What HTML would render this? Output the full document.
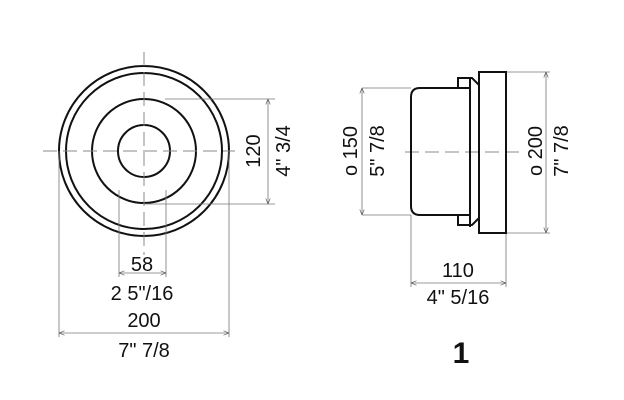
<!DOCTYPE html>
<html><head><style>body{margin:0;background:#fff}svg{display:block}text{font-family:"Liberation Sans",sans-serif;fill:#111}</style></head><body>
<svg width="624" height="400" viewBox="0 0 624 400">
<defs><marker id="a" viewBox="0 0 10 10" refX="10" refY="5" markerWidth="7" markerHeight="7" orient="auto-start-reverse"><path d="M0,1 L10,5 L0,9" fill="none" stroke="#555" stroke-width="1.2"/></marker></defs>
<g fill="none" stroke="#111" stroke-width="2">
<circle cx="144" cy="151" r="85"/><circle cx="144" cy="151" r="78"/><circle cx="144" cy="151" r="52"/><circle cx="144" cy="151" r="26"/>
</g>
<g stroke="#888" stroke-width="1" stroke-dasharray="14,6" fill="none">
<line x1="43" y1="151" x2="235" y2="151"/><line x1="144" y1="52" x2="144" y2="255"/>
<line x1="405" y1="152" x2="522" y2="152"/>
</g>
<g stroke="#777" stroke-width="0.8" fill="none">
<line x1="165" y1="99" x2="275" y2="99"/><line x1="144" y1="204" x2="275" y2="204"/>
<line x1="268" y1="99" x2="268" y2="204" marker-start="url(#a)" marker-end="url(#a)"/>
<line x1="119" y1="190" x2="119" y2="277"/><line x1="166" y1="190" x2="166" y2="277"/>
<line x1="119" y1="273" x2="166" y2="273" marker-start="url(#a)" marker-end="url(#a)"/>
<line x1="59" y1="151" x2="59" y2="337"/><line x1="229" y1="151" x2="229" y2="337"/>
<line x1="59" y1="333" x2="229" y2="333" marker-start="url(#a)" marker-end="url(#a)"/>
<line x1="362" y1="88" x2="411" y2="88"/><line x1="362" y1="215" x2="411" y2="215"/>
<line x1="362" y1="88" x2="362" y2="215" marker-start="url(#a)" marker-end="url(#a)"/>
<line x1="506" y1="72" x2="550" y2="72"/><line x1="506" y1="233" x2="550" y2="233"/>
<line x1="546" y1="72" x2="546" y2="233" marker-start="url(#a)" marker-end="url(#a)"/>
<line x1="411" y1="215" x2="411" y2="287"/><line x1="506" y1="233" x2="506" y2="287"/>
<line x1="411" y1="283" x2="506" y2="283" marker-start="url(#a)" marker-end="url(#a)"/>
</g>
<g fill="none" stroke="#111" stroke-width="2">
<rect x="479" y="72" width="27" height="161"/>
<line x1="470" y1="78" x2="470" y2="227"/>
<path d="M470,88 L420,88 Q411,88 411,97 L411,206 Q411,215 420,215 L470,215"/>
<path d="M458,88 L458,78 L472,78 L479,85"/>
<path d="M458,215 L458,225 L472,225 L479,218"/>
</g>
<g font-size="20" text-anchor="middle">
<text transform="translate(260,151) rotate(-90)">120</text>
<text transform="translate(290,151) rotate(-90)">4" 3/4</text>
<text x="142" y="271">58</text><text x="142" y="300">2 5"/16</text>
<text x="144" y="327">200</text><text x="144" y="357">7" 7/8</text>
<text transform="translate(357,151) rotate(-90)">o 150</text>
<text transform="translate(384,151) rotate(-90)">5" 7/8</text>
<text transform="translate(542,151) rotate(-90)">o 200</text>
<text transform="translate(568,151) rotate(-90)">7" 7/8</text>
<text x="458" y="277">110</text><text x="458" y="304">4" 5/16</text>
<text x="461" y="363" font-size="30" font-weight="bold">1</text>
</g>
</svg></body></html>
